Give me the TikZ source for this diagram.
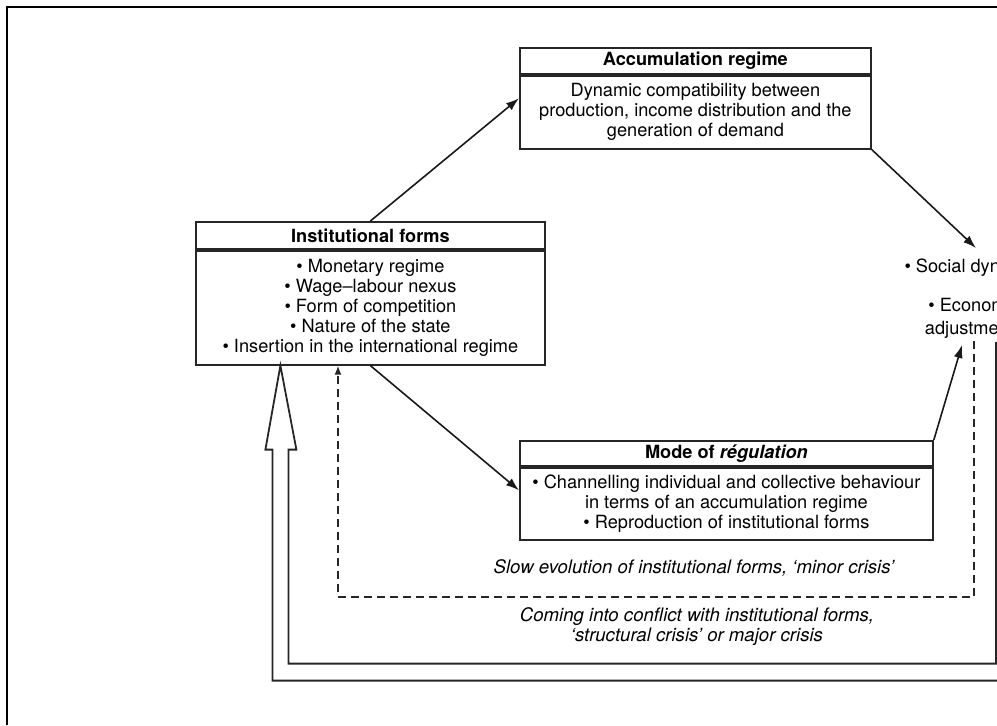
\documentclass[tikz,border=0pt]{standalone}
\usepackage{fontspec}
\setmainfont{TeX Gyre Heros}
\usetikzlibrary{arrows.meta, positioning, calc}

\begin{document}
\begin{tikzpicture}[
    x=0.5pt, y=-0.5pt,
    every node/.style={font=\fontsize{9.1}{10}\selectfont},
    head/.style={rectangle, draw=black!85, line width=0.9pt, inner sep=0pt, anchor=north west, font=\fontsize{9.1}{10}\selectfont\bfseries},
    body/.style={rectangle, draw=black!85, line width=0.9pt, inner sep=0pt, align=center},
    arr/.style={-{Latex[length=6.5pt, width=4.5pt]}, line width=0.8pt, black!90},
    dsh/.style={-{Latex[length=4.5pt, width=3.5pt]}, line width=0.8pt, dash pattern=on 4pt off 2.5pt, black!85},
    hollow/.style={line width=0.9pt, black!85, line join=miter},
    lbl/.style={font=\fontsize{9.3}{10}\selectfont\itshape, align=center}
]
\useasboundingbox (0,0) rectangle (997,725);
\clip (0,0) rectangle (997,725);

% frame
\draw[line width=1.1pt] (7,725) -- (7,7) -- (1000,7);

% boxes
\node[head, minimum width=175.5pt, minimum height=13pt] (acct) at (519,47) {Accumulation regime};
\node[body, minimum width=175.5pt, minimum height=36.5pt, below=0pt of acct] (accb)
{Dynamic compatibility between\\production, income distribution and the\\generation of demand};

\node[head, minimum width=174.5pt, minimum height=13.5pt] (instt) at (195,221) {Institutional forms};
\node[body, minimum width=174.5pt, minimum height=57pt, below=0pt of instt] (instb)
{• Monetary regime\\• Wage–labour nexus\\• Form of competition\\• Nature of the state\\• Insertion in the international regime};

\node[head, minimum width=206.5pt, minimum height=12.5pt] (modet) at (519,440) {Mode of \textit{régulation}};
\node[body, minimum width=206.5pt, minimum height=36pt, below=0pt of modet] (modeb)
{• Channelling individual and collective behaviour\\in terms of an accumulation regime\\• Reproduction of institutional forms};

% outcomes at the right
\node[anchor=north, inner ysep=5pt] (soc) at (976,248) {• Social dynamics};
\node[anchor=south, inner ysep=1pt, align=center, font=\fontsize{9.1}{11.5}\selectfont] (eco) at (974,341) {• Economic\\adjustments};

% labels of the feedback loops
\node[lbl] (slow) at (694,568) {Slow evolution of institutional forms, ‘minor crisis’};
\node[lbl] (major) at (697,627) {Coming into conflict with institutional forms,\\‘structural crisis’ or major crisis};

% arrows
\draw[arr] (instt.north) -- ($(acct.north west)!0.5!(accb.south west)$);
\draw[arr] (instb.south) -- ($(modet.north west)!0.5!(modeb.south west)$);
\draw[arr] (accb.south east) -- (soc.north);
\draw[arr] (modet.north east) -- ([shift={(-12,4)}]eco.south);

% minor crisis loop
\coordinate (dl) at (338,597);
\draw[dsh] (eco.south) |- (dl) -- (dl |- instb.south);

% major crisis loop
\coordinate (tip) at ($(instb.south)+(-90,0)$);
\draw[hollow] (996,342) |- ($(tip)+(8,298)$) -- ($(tip)+(8,84)$) -- ($(tip)+(16,84)$) -- (tip)
    -- ($(tip)+(-15,84)$) -- ($(tip)+(-8,84)$) |- ($(tip)+(732,315)$) -- ($(tip)+(732,-20)$);

\end{tikzpicture}
\end{document}
